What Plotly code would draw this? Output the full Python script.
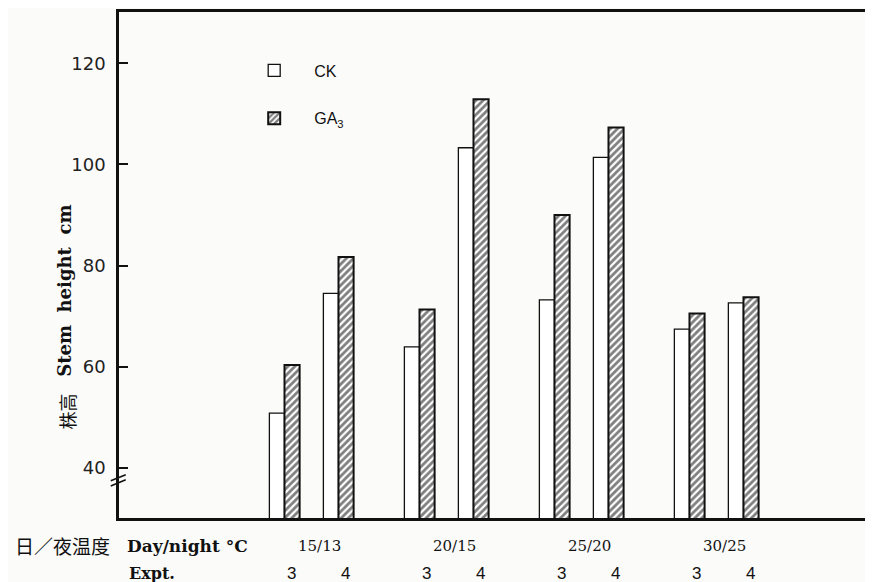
import plotly.graph_objects as go

# ---- data ----
temperatures = ["15/13", "20/15", "25/20", "30/25"]
expts = ["3", "4"]
ck_values = [50.8, 74.5, 63.9, 103.3, 73.2, 101.4, 67.4, 72.6]   # per temp, expt 3 then 4
ga3_values = [60.3, 81.7, 71.3, 112.9, 90.0, 107.3, 70.5, 73.7]
y_ticks = [40, 60, 80, 100, 120]

# ---- layout helpers ----
expt_offset = 0.2
bar_w = 0.112
xs = []
for gi, _t in enumerate(temperatures):
    for ei, _e in enumerate(expts):
        xs.append(gi + (-expt_offset if ei == 0 else expt_offset))

fig = go.Figure()
fig.add_trace(go.Bar(
    x=xs, y=ck_values, width=bar_w, offset=-bar_w, name="CK",
    legendgroup="ck",
    marker=dict(color="white", line=dict(color="#111", width=1.3)),
))
fig.add_trace(go.Bar(
    x=xs, y=ga3_values, width=bar_w, offset=0, name="GA<sub>3</sub>",
    legendgroup="ga",
    marker=dict(color="white", line=dict(color="#111", width=2),
                pattern=dict(shape="/", fgcolor="#000", bgcolor="white",
                             size=5, solidity=0.55)),
))

serif = "DejaVu Serif, Liberation Serif, serif"
sans = "Liberation Sans, Arial, sans-serif"
cjk = "Noto Sans CJK TC, Noto Sans CJK SC, sans-serif"

annotations = []
row1_y = -0.055
row2_y = -0.109
for gi, t in enumerate(temperatures):
    annotations.append(dict(x=gi, y=row1_y, xref="x", yref="paper", text=t,
                            showarrow=False, xshift=8, yanchor="middle",
                            font=dict(family=serif, size=15, color="#111")))
for i, x in enumerate(xs):
    annotations.append(dict(x=x, y=row2_y, xref="x", yref="paper", text=expts[i % 2],
                            showarrow=False, xshift=7, yanchor="middle",
                            font=dict(family=sans, size=17, color="#111")))
annotations.append(dict(x=-0.0755, y=row1_y, xref="paper", yref="paper",
                        text="日／夜温度", xanchor="center", yanchor="middle",
                        showarrow=False,
                        font=dict(family=cjk, size=19, color="#111")))
annotations.append(dict(x=0.008, y=row1_y, xref="paper", yref="paper",
                        text="<b>Day/night °C</b>", xanchor="left", yanchor="middle",
                        showarrow=False,
                        font=dict(family=serif, size=17, color="#111")))
annotations.append(dict(x=0.011, y=row2_y, xref="paper", yref="paper",
                        text="<b>Expt.</b>", xanchor="left", yanchor="middle",
                        showarrow=False,
                        font=dict(family=serif, size=16, color="#111")))
annotations.append(dict(x=-0.0896, y=0.276, xref="paper", yref="paper",
                        text="<b>Stem  height  cm</b>", textangle=-90,
                        yanchor="bottom", showarrow=False,
                        font=dict(family=serif, size=18, color="#111")))
annotations.append(dict(x=-0.0896, y=0.25, xref="paper", yref="paper",
                        text="株高", textangle=-90, yanchor="top",
                        showarrow=False,
                        font=dict(family=cjk, size=18, color="#111")))

shapes = []
for yy in (37.0, 38.0):
    shapes.append(dict(type="line", xref="paper", yref="y",
                       x0=-0.011, x1=0.009, y0=yy - 0.6, y1=yy + 0.6,
                       line=dict(color="#111", width=1.6)))

fig.update_layout(
    width=865, height=574,
    margin=dict(l=111, r=6, t=4, b=64, autoexpand=False),
    paper_bgcolor="#fbfbfa", plot_bgcolor="#fbfbfa",
    barmode="overlay",
    showlegend=True,
    legend=dict(x=0.154, y=0.918, xanchor="left", yanchor="top",
                bgcolor="rgba(0,0,0,0)", itemwidth=70,
                tracegroupgap=24, traceorder="grouped",
                font=dict(family=sans, size=16, color="#111")),
    xaxis=dict(range=[-1.426, 4.115], showticklabels=False, ticks="",
               showgrid=False, zeroline=False, showline=True, mirror=True,
               linecolor="#111", linewidth=2.5),
    yaxis=dict(range=[30.05, 130.15], tickvals=y_ticks, ticks="inside",
               ticklen=9, tickwidth=2, tickcolor="#111",
               ticklabelstandoff=7,
               showgrid=False, zeroline=False, showline=True, mirror=True,
               linecolor="#111", linewidth=2.5,
               tickfont=dict(family="DejaVu Sans, sans-serif", size=18, color="#222")),
    annotations=annotations,
    shapes=shapes,
)

fig.write_html("out.html")
